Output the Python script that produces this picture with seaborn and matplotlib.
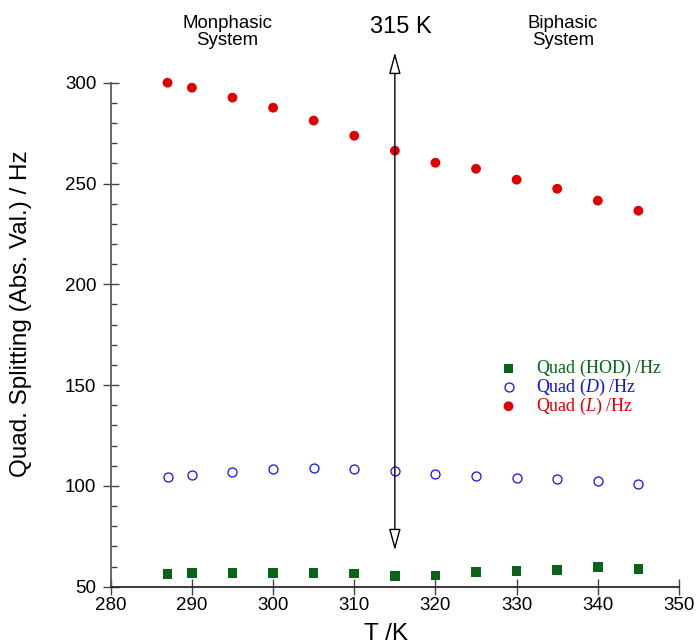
import matplotlib
matplotlib.use("Agg")
import matplotlib.pyplot as plt
import seaborn as sns
import pandas as pd

temps = [287, 290, 295, 300, 305, 310, 315, 320, 325, 330, 335, 340, 345]
quad_hod = [56.3, 56.8, 56.9, 56.8, 56.8, 56.5, 55.3, 55.5, 57.3, 57.9, 58.3, 59.8, 58.9]
quad_d = [104.6, 105.6, 107.0, 108.5, 109.0, 108.5, 107.5, 106.0, 105.0, 104.0, 103.6, 102.6, 101.1]
quad_l = [300.0, 297.5, 292.6, 287.6, 281.2, 273.7, 266.3, 260.3, 257.3, 251.9, 247.4, 241.5, 236.5]
x_ticks = [280, 290, 300, 310, 320, 330, 340, 350]
y_ticks = [50, 100, 150, 200, 250, 300]
labels = [r"$\mathrm{Quad\ (HOD)\ /Hz}$",
          r"$\mathrm{Quad\ (}\mathit{D}\mathrm{)\ /Hz}$",
          r"$\mathrm{Quad\ (}\mathit{L}\mathrm{)\ /Hz}$"]
colors = ["#0a6418", "#1010e8", "#e00000"]

sns.set_theme(style="ticks")
plt.rcParams['font.family'] = ['Liberation Sans', 'DejaVu Sans']
plt.rcParams['mathtext.fontset'] = 'custom'
plt.rcParams['mathtext.rm'] = 'Liberation Serif'
plt.rcParams['mathtext.it'] = 'Liberation Serif:italic'
plt.rcParams['text.color'] = 'black'
plt.rcParams['axes.labelcolor'] = 'black'
plt.rcParams['xtick.labelcolor'] = 'black'
plt.rcParams['ytick.labelcolor'] = 'black'

W, H = 697, 644
fig = plt.figure(figsize=(W / 100, H / 100), dpi=100)
L, R, B, T = 110.7, 679.0, 586.7, 82.7
ax = fig.add_axes([L / W, (H - B) / H, (R - L) / W, (B - T) / H])

df = pd.DataFrame({"T": temps, "HOD": quad_hod, "D": quad_d, "L": quad_l})

sns.scatterplot(data=df, x="T", y="HOD", ax=ax, marker="s", s=48, color=colors[0],
                edgecolor="none", label=labels[0], clip_on=False, zorder=3)
sns.scatterplot(data=df, x="T", y="D", ax=ax, marker="o", s=42, facecolor="white",
                edgecolor=colors[1], linewidth=0.9, label=labels[1], clip_on=False, zorder=3)
sns.scatterplot(data=df, x="T", y="L", ax=ax, marker="o", s=50, color=colors[2],
                edgecolor="none", label=labels[2], clip_on=False, zorder=3)

ax.set_xlim(280, 350)
ax.set_ylim(50, 300)
ax.set_xticks(x_ticks)
ax.set_yticks(y_ticks)
ax.set_yticks(range(50, 301, 10), minor=True)
ax.tick_params(axis="both", which="major", direction="inout", length=11.5, width=1,
               labelsize=13.5, color="#444444")
ax.tick_params(axis="x", which="major", pad=2)
ax.tick_params(axis="y", which="major", pad=4.5)
ax.tick_params(axis="y", which="minor", direction="in", length=4, width=1, color="#444444")
for s in ["top", "right"]:
    ax.spines[s].set_visible(False)
ax.spines["left"].set_color("#555555")
ax.spines["bottom"].set_color("#222222")
ax.set_xlabel("T /K", fontsize=17.5)
ax.set_ylabel("Quad. Splitting (Abs. Val.) / Hz", fontsize=17.5)
ax.xaxis.set_label_coords(0.484, -0.072)
ax.yaxis.set_label_coords(-0.1385, 0.542)

ax.annotate("", xy=(315, 315.0), xytext=(315, 68.0), xycoords="data",
            arrowprops=dict(arrowstyle="<|-|>,head_length=1.1,head_width=0.3",
                            fc="white", ec="black", lw=1, shrinkA=0, shrinkB=0),
            annotation_clip=False)

fig.text(227 / W, 1 - 32 / H, "Monphasic\nSystem", ha="center", va="center",
         fontsize=13.4, linespacing=1.0)
fig.text(563 / W, 1 - 32 / H, "Biphasic\nSystem", ha="center", va="center",
         fontsize=13.4, linespacing=1.0)
fig.text(400.7 / W, 1 - 27 / H, "315 K", ha="center", va="center", fontsize=17)

leg = ax.legend(loc="upper left", bbox_to_anchor=(499.5 / W, 1 - 358 / H),
                bbox_transform=fig.transFigure, frameon=False,
                prop={"size": 13},
                handletextpad=1.0, labelspacing=-0.12, handlelength=1.0,
                borderpad=0, borderaxespad=0)
for t, c in zip(leg.get_texts(), colors):
    t.set_color(c)

fig.savefig("out.png", dpi=100)
